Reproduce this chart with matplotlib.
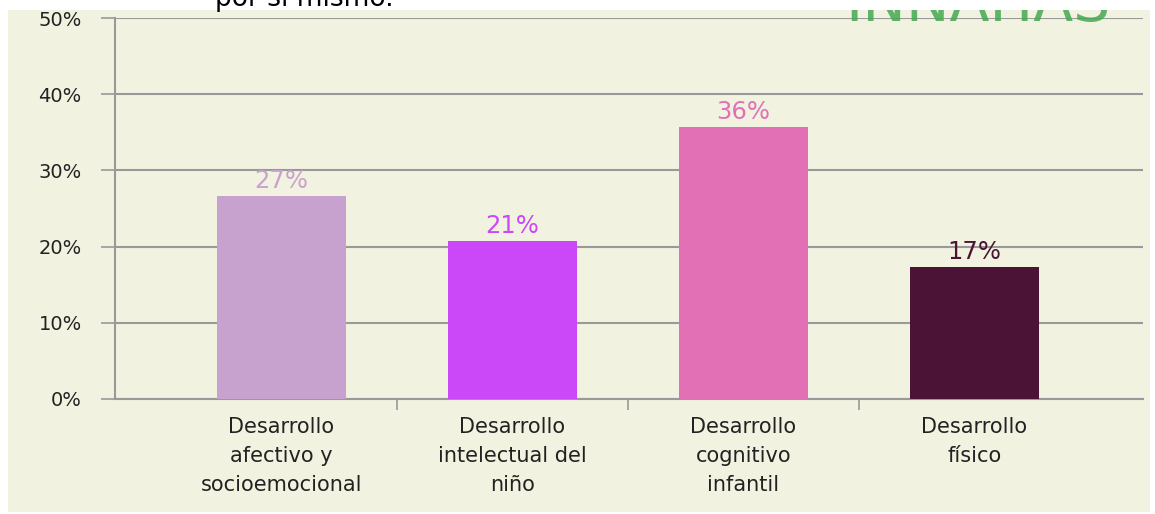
import numpy as np
import matplotlib.pyplot as plt
from matplotlib.patches import Rectangle

categories = ['Desarrollo\nafectivo y\nsocioemocional',
              'Desarrollo\nintelectual del\nniño',
              'Desarrollo\ncognitivo\ninfantil',
              'Desarrollo\nfísico']
values = [26.6, 20.7, 35.7, 17.3]
labels = ['27%', '21%', '36%', '17%']
colors = ['#C8A2CE', '#CB48F8', '#E270B4', '#4B1436']
yticks = [0, 10, 20, 30, 40, 50]

W, H = 1155, 514
fig = plt.figure(figsize=(W / 100, H / 100), dpi=100)
fig.patch.set_facecolor('white')

# beige slide panel (behind the axes)
fig.patches.append(Rectangle((8 / W, 2 / H), 1142 / W, 502 / H,
                             transform=fig.transFigure, facecolor='#F2F2E1',
                             edgecolor='none', zorder=-5))

ax = fig.add_axes([115 / W, 1 - 399 / H, (1143 - 115) / W, (399 - 18) / H])
ax.set_facecolor('none')

x = np.arange(len(categories))
ax.bar(x, values, width=0.56, color=colors, zorder=3)
for xi, v, lab, c in zip(x, values, labels, colors):
    ax.text(xi, v + 0.4, lab, ha='center', va='bottom', fontsize=17.5, color=c)

ax.set_xlim(-0.72, 3.73)
ax.set_ylim(0, 50)
ax.set_yticks(yticks)
ax.set_yticklabels([f'{t}%' for t in yticks], fontsize=14, color='#222222')
ax.yaxis.grid(True, color='#999999', linewidth=1.5, zorder=1)
ax.set_axisbelow(True)
ax.tick_params(axis='y', length=10, width=1.2, color='#999999', pad=14)

ax.set_xticks(x)
ax.set_xticklabels(categories, fontsize=15, color='#222222', linespacing=1.55)
ax.tick_params(axis='x', length=0, pad=13)
ax.set_xticks([0.5, 1.5, 2.5], minor=True)
ax.tick_params(axis='x', which='minor', length=8, width=1.2, color='#999999')

for s in ['top', 'right']:
    ax.spines[s].set_visible(False)
ax.spines['left'].set_color('#999999')
ax.spines['left'].set_linewidth(1.5)
ax.spines['bottom'].set_color('#999999')
ax.spines['bottom'].set_linewidth(1.5)

# cut-off slide text and logo at the top
fig.text(215 / W, 1 - 6 / H, 'por sí mismo.', fontsize=19, color='black',
         va='baseline', ha='left')
fig.text(845 / W, 1 - 21 / H, 'INNAHAS', fontsize=42, color='#45A850',
         va='baseline', ha='left', alpha=0.85)
fig.patches.append(Rectangle((780 / W, 1 - 10 / H), 375 / W, 10 / H,
                             transform=fig.transFigure, facecolor='white',
                             edgecolor='none', zorder=10))

fig.savefig('out.png', dpi=100, facecolor='white')
